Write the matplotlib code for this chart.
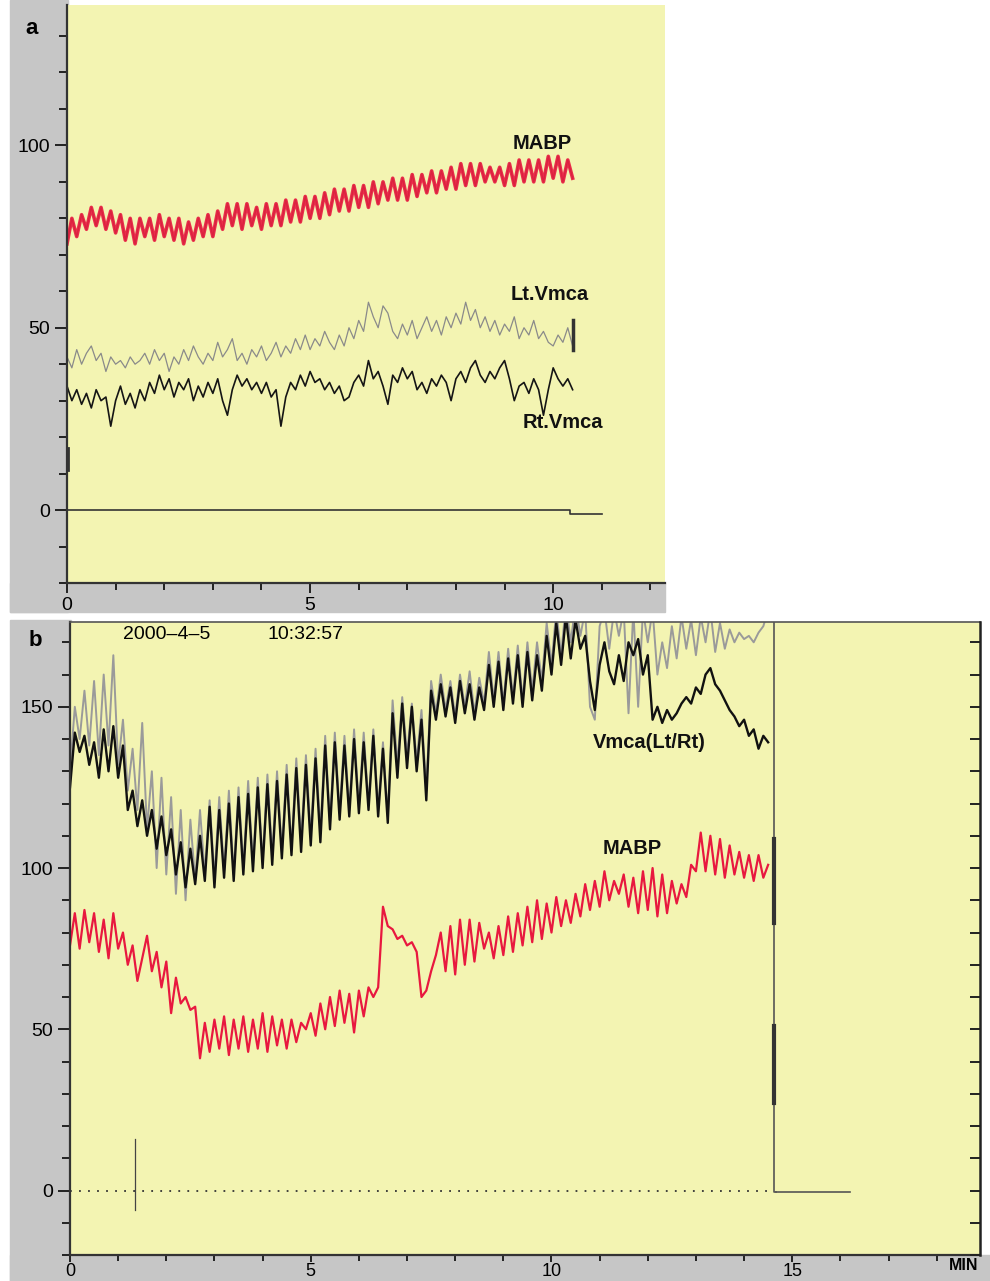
import numpy as np
import matplotlib
matplotlib.use("Agg")
import matplotlib.pyplot as plt
from matplotlib.patches import Rectangle

plt.rcParams['font.family'] = ['Liberation Sans', 'DejaVu Sans']

# ---- panel a data (sampled every 0.1 min) ----
dt = 0.1
mabp_a = [73, 80, 75, 81, 77, 83, 78, 83, 77, 82, 76, 81, 74, 80, 73, 80, 75, 80, 74, 81,
          75, 80, 74, 80, 73, 79, 74, 80, 75, 81, 75, 82, 77, 84, 78, 84, 77, 84, 78, 83,
          77, 84, 78, 84, 78, 85, 79, 85, 79, 86, 80, 86, 80, 87, 81, 88, 82, 88, 82, 89,
          83, 89, 83, 90, 84, 90, 85, 91, 85, 91, 85, 92, 86, 92, 87, 93, 87, 93, 88, 94,
          88, 95, 89, 95, 89, 95, 90, 94, 90, 94, 89, 95, 89, 96, 90, 96, 90, 96, 90, 97,
          91, 97, 90, 96, 91]
lt_a = [42, 39, 44, 40, 43, 45, 41, 43, 38, 42, 40, 41, 39, 42, 40, 41, 43, 40, 44, 41,
        43, 38, 42, 40, 44, 41, 45, 42, 40, 43, 41, 46, 42, 44, 47, 41, 43, 40, 44, 42,
        45, 41, 43, 46, 42, 45, 43, 47, 44, 48, 44, 47, 45, 49, 46, 44, 48, 45, 50, 47,
        52, 49, 57, 53, 50, 56, 54, 49, 47, 51, 48, 52, 47, 50, 53, 49, 52, 48, 53, 50,
        54, 51, 57, 52, 55, 50, 53, 49, 52, 48, 51, 49, 53, 47, 50, 48, 52, 47, 49, 46,
        45, 48, 46, 50, 45]
rt_a = [34, 30, 33, 29, 32, 28, 33, 30, 31, 23, 30, 34, 29, 32, 28, 33, 30, 35, 32, 37,
        33, 36, 31, 35, 33, 36, 30, 34, 31, 35, 32, 36, 30, 26, 33, 37, 34, 36, 33, 35,
        32, 35, 31, 33, 23, 31, 35, 33, 37, 34, 38, 35, 36, 33, 35, 32, 34, 30, 31, 35,
        37, 34, 41, 36, 38, 34, 29, 37, 35, 39, 36, 38, 33, 35, 32, 36, 34, 37, 35, 30,
        36, 38, 35, 39, 41, 37, 35, 38, 36, 39, 41, 36, 30, 34, 35, 32, 36, 33, 26, 33,
        39, 36, 34, 36, 33]
lt_a_end = [44, 52]
baseline_a_t = [0, 10.35, 10.35, 11.0]
baseline_a_v = [0, 0, -1.2, -1.2]
start_mark_a = [11, 17]

# ---- panel b data (sampled every 0.1 min) ----
mabp_b = [76, 86, 75, 87, 77, 86, 74, 84, 72, 86, 75, 80, 70, 76, 65, 72, 79, 68, 74, 63,
          71, 55, 66, 58, 60, 56, 57, 41, 52, 43, 53, 44, 54, 42, 53, 44, 54, 43, 53, 44,
          55, 43, 54, 45, 53, 44, 53, 46, 52, 50, 55, 48, 58, 50, 60, 51, 62, 52, 61, 49,
          62, 54, 63, 60, 63, 88, 82, 81, 78, 79, 76, 77, 74, 60, 62, 68, 73, 80, 68, 82,
          67, 84, 70, 84, 71, 83, 75, 80, 72, 82, 73, 85, 74, 86, 76, 88, 77, 90, 78, 89,
          80, 91, 82, 90, 83, 92, 85, 95, 87, 96, 88, 99, 90, 96, 92, 98, 88, 97, 86, 99,
          87, 100, 85, 98, 86, 96, 89, 95, 91, 101, 99, 111, 99, 110, 98, 109, 97, 107, 98, 105,
          97, 104, 96, 104, 97, 101]
rt_b = [125, 142, 136, 141, 132, 139, 128, 143, 130, 144, 128, 138, 118, 124, 113, 121, 110, 118, 106, 116,
        104, 112, 98, 108, 94, 106, 95, 110, 96, 119, 94, 118, 97, 120, 96, 122, 98, 123, 99, 125,
        100, 126, 101, 127, 103, 129, 104, 131, 105, 132, 107, 134, 108, 138, 112, 139, 115, 138, 116, 140,
        117, 139, 118, 141, 116, 137, 114, 148, 128, 151, 131, 150, 130, 146, 121, 155, 146, 157, 147, 156,
        145, 158, 148, 157, 146, 156, 149, 163, 150, 164, 149, 165, 151, 166, 150, 167, 152, 166, 155, 172,
        160, 176, 163, 178, 165, 177, 168, 172, 158, 149, 163, 170, 161, 157, 166, 158, 170, 166, 171, 160,
        166, 146, 150, 145, 149, 146, 148, 151, 153, 151, 156, 154, 160, 162, 157, 155, 152, 149, 147, 144,
        146, 141, 143, 137, 141, 139]
lt_b = [130, 150, 140, 155, 138, 158, 135, 160, 138, 166, 132, 146, 124, 137, 118, 145, 112, 130, 100, 128,
        98, 122, 92, 118, 90, 115, 96, 118, 98, 121, 97, 122, 99, 124, 98, 125, 100, 127, 101, 128,
        102, 129, 104, 130, 105, 132, 106, 134, 108, 135, 110, 137, 111, 141, 114, 142, 117, 141, 118, 143,
        119, 142, 120, 143, 118, 139, 116, 152, 132, 153, 135, 151, 133, 149, 124, 158, 148, 160, 149, 158,
        147, 160, 150, 161, 148, 159, 151, 167, 152, 167, 151, 168, 153, 169, 152, 170, 155, 170, 158, 176,
        163, 180, 166, 182, 170, 182, 172, 180, 150, 146, 175, 180, 168, 180, 172, 180, 148, 180, 150, 180,
        170, 180, 160, 170, 162, 175, 165, 178, 168, 177, 166, 178, 170, 180, 167, 176, 168, 174, 170, 173,
        171, 172, 170, 173, 175, 180]
stop_t_b = 14.63
stop_marks_b = [(83, 109), (27, 51)]
spike_b_t = 1.35
spike_b_v = [-6, 16]
baseline_b_t = [0, 14.6]
after_stop_t = [14.66, 16.2]
after_stop_v = [-0.5, -0.5]

t_mabp_a = np.arange(len(mabp_a)) * dt
t_lt_a = np.arange(len(lt_a)) * dt
t_rt_a = np.arange(len(rt_a)) * dt
t_mabp_b = np.arange(len(mabp_b)) * dt
t_rt_b = np.arange(len(rt_b)) * dt
t_lt_b = np.arange(len(lt_b)) * dt

W, H = 990, 1281
yellow = '#f3f4b2'
gray = '#c6c6c6'
fig = plt.figure(figsize=(W / 100, H / 100), dpi=100)
fig.patch.set_facecolor('white')


def px_rect(x0, y0, x1, y1, color):
    fig.patches.append(Rectangle((x0 / W, 1 - y1 / H), (x1 - x0) / W, (y1 - y0) / H,
                                 transform=fig.transFigure, color=color, zorder=-10))


# scanned gray margins
px_rect(10, 0, 68, 612, gray)
px_rect(10, 583, 665, 612, gray)
px_rect(10, 620, 71, 1281, gray)
px_rect(10, 1255, 990, 1281, gray)


def style_axis(ax, xmax, ymin, ymax):
    ax.set_facecolor(yellow)
    ax.set_xlim(0, xmax)
    ax.set_ylim(ymin, ymax)
    ax.set_xticks(np.arange(0, xmax, 5))
    ax.set_xticks(np.arange(0, xmax, 1), minor=True)
    ax.set_yticks([0, 50, 100, 150] if ymax > 150 else [0, 50, 100])
    ax.set_yticks(np.arange(-20, ymax, 10), minor=True)
    ax.tick_params(which='major', length=9, width=1.4, color='#222222', labelsize=14, pad=3)
    ax.tick_params(which='minor', length=6, width=1.4, color='#222222')
    ax.tick_params(axis='x', which='major', length=7)
    ax.tick_params(axis='x', which='minor', length=5)
    for s in ['left', 'bottom']:
        ax.spines[s].set_color('#333333')
        ax.spines[s].set_linewidth(1.6)


# ---------------- panel a ----------------
axa = fig.add_axes([67 / W, 1 - 583 / H, (665 - 67) / W, (583 - 5) / H])
style_axis(axa, 12.3, -20, 138.5)
axa.spines['top'].set_visible(False)
axa.spines['right'].set_visible(False)

axa.plot(baseline_a_t, baseline_a_v, color='#333333', lw=1.2)
axa.plot([0.02] * 2, start_mark_a, color='#333333', lw=2)
axa.plot(t_lt_a, lt_a, color='#8a8a8a', lw=0.9)
axa.plot([t_lt_a[-1]] * 2, lt_a_end, color='#333333', lw=2.5)
axa.plot(t_rt_a, rt_a, color='#151515', lw=1.2)
axa.plot(t_mabp_a, mabp_a, color='#6b7a40', lw=1.0)
axa.plot(t_mabp_a, mabp_a, color='#e8183f', lw=2.6, alpha=0.9)

lab = dict(fontsize=14.5, fontweight='bold', ha='center', va='center', color='#111111')
axa.text(9.78, 100.5, 'MABP', **lab)
axa.text(9.92, 59, 'Lt.Vmca', **lab)
axa.text(10.19, 24, 'Rt.Vmca', **lab)
fig.text(32 / W, 1 - 28 / H, 'a', fontsize=16, fontweight='bold', ha='center', va='center')

# ---------------- panel b ----------------
axb = fig.add_axes([70 / W, 1 - 1255 / H, (980 - 70) / W, (1255 - 622) / H])
style_axis(axb, 18.9, -20, 176.3)
axb.tick_params(axis='x', which='major', length=5, pad=1, labelsize=13)
axb.tick_params(axis='x', which='minor', length=4)
axb.spines['right'].set_visible(False)
axb.spines['top'].set_color('#555555')
axb.spines['top'].set_linewidth(1.2)

axr = axb.twinx()
axr.set_ylim(axb.get_ylim())
axr.set_yticks(np.arange(-20, 176, 10))
axr.tick_params(direction='in', length=7, width=1.4, color='#222222', labelright=False)
axr.spines['right'].set_color('#222222')
axr.spines['right'].set_linewidth(1.8)
for s in ['left', 'top', 'bottom']:
    axr.spines[s].set_visible(False)

axb.plot(baseline_b_t, [0, 0], color='#333333', lw=1.3, linestyle=(0, (1, 4)))
axb.plot([spike_b_t] * 2, spike_b_v, color='#444444', lw=0.9)
axb.plot(after_stop_t, after_stop_v, color='#555555', lw=1.2)
axb.plot([stop_t_b, stop_t_b, after_stop_t[0]], [176.3, after_stop_v[0], after_stop_v[0]],
         color='#555555', lw=1.2)
for lo, hi in stop_marks_b:
    axb.plot([stop_t_b] * 2, [lo, hi], color='#333333', lw=3)

axb.plot(t_lt_b, lt_b, color='#9a9a9a', lw=1.4)
axb.plot(t_rt_b, rt_b, color='#111111', lw=1.7)
axb.plot(t_mabp_b, mabp_b, color='#e8183f', lw=1.6)

axb.text(12.03, 139, 'Vmca(Lt/Rt)', **lab)
axb.text(11.68, 106, 'MABP', **lab)
axb.text(2.01, 172.3, '2000\u20134\u20135', fontsize=14, ha='center', va='center')
axb.text(4.9, 172.3, '10:32:57', fontsize=14, ha='center', va='center')
fig.text(964 / W, 1 - 1266 / H, 'MIN', fontsize=11.5, fontweight='bold', ha='center', va='center')
fig.text(35 / W, 1 - 640 / H, 'b', fontsize=16, fontweight='bold', ha='center', va='center')

fig.savefig('out.png', dpi=100, facecolor='white')
